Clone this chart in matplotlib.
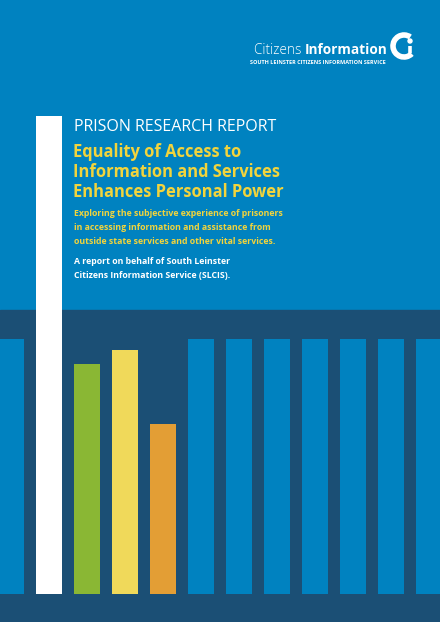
import matplotlib
matplotlib.use("Agg")
import matplotlib.pyplot as plt
from matplotlib.patches import Arc, Circle

# Data (bar heights in chart units)
categories = list(range(12))
heights = [255, 478, 230, 244, 170, 255, 255, 255, 255, 255, 255, 255]
colors = ['#0082C0', '#FFFFFF', '#8AB734', '#F0D95A', '#E39E35'] + ['#0082C0'] * 7

BG = '#0082C0'
DARK = '#1B4F75'
YEL = '#F2D43C'

fig = plt.figure(figsize=(4.4, 6.22), dpi=100)
fig.patch.set_facecolor(BG)
ax = fig.add_axes([0, 0, 1, 1])
ax.set_xlim(0, 440)
ax.set_ylim(0, 622)
ax.axis('off')
ax.axhspan(0, 312, color=DARK, zorder=0)

xs = [11 + 38 * c for c in categories]
ax.bar(xs, heights, width=26, bottom=28, color=colors, zorder=2)

ff = 'Open Sans'
ax.text(74, 622 - 127, 'PRISON RESEARCH REPORT', color='white', fontsize=11.5,
        family=ff, va='center', ha='left')
for i, line in enumerate(['Equality of Access to', 'Information and Services',
                          'Enhances Personal Power']):
    ax.text(73, 622 - 152 - 20 * i, line, color=YEL, fontsize=11.9, fontweight='bold',
            family=ff, va='center', ha='left')
for i, line in enumerate(['Exploring the subjective experience of prisoners',
                          'in accessing information and assistance from',
                          'outside state services and other vital services.']):
    ax.text(74, 622 - 213 - 14 * i, line, color=YEL, fontsize=6.3, fontweight='bold',
            family=ff, va='center', ha='left')
for i, line in enumerate(['A report on behalf of South Leinster',
                          'Citizens Information Service (SLCIS).']):
    ax.text(74, 622 - 262 - 14 * i, line, color='white', fontsize=6.3, fontweight='bold',
            family=ff, va='center', ha='left')

# Logo
ax.text(305, 622 - 50, 'Citizens ', color='white', fontsize=9.8, family=ff,
        fontweight='light', ha='right', va='center')
ax.text(305, 622 - 50, 'Information', color='white', fontsize=9.8, family=ff,
        fontweight='bold', ha='left', va='center')
ax.text(386, 622 - 63, 'SOUTH LEINSTER CITIZENS INFORMATION SERVICE', color='white',
        fontsize=4, family=ff, fontweight='bold', ha='right', va='center')
ax.add_patch(Arc((404, 622 - 46), 22, 22, theta1=55, theta2=315, color='white', lw=4))
ax.add_patch(Circle((410, 622 - 41), 2, color='white'))
ax.plot([410, 410], [622 - 45.5, 622 - 53], color='white', lw=2.6, solid_capstyle='butt')

fig.savefig('out.png', dpi=100, facecolor=BG)
